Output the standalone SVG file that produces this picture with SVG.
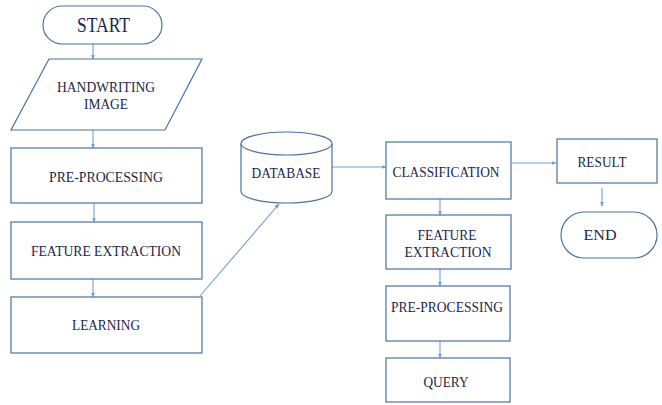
<svg xmlns="http://www.w3.org/2000/svg" width="662" height="405" viewBox="0 0 662 405">
  <defs>
    <style>
      .shape { fill: #ffffff; stroke: #4a72a0; stroke-width: 1.2; }
      .label { font-family: 'Liberation Serif', 'DejaVu Serif', serif; font-size: 15px; fill: #1c2848; text-anchor: middle; }
      .big { font-size: 21px; }
      .link { fill: none; stroke: #6f9fd3; stroke-width: 1.1; }
    </style>
    <marker id="arrow" viewBox="0 0 10 10" refX="9" refY="5" markerWidth="5" markerHeight="5" orient="auto" markerUnits="userSpaceOnUse">
      <path d="M0,1 L10,5 L0,9 z" fill="#6f9fd3"/>
    </marker>
  </defs>
  <rect width="662" height="405" fill="#ffffff"/>

  <g id="connectors">
    <line class="link" x1="93" y1="44" x2="93" y2="59" marker-end="url(#arrow)"/>
    <line class="link" x1="93" y1="130" x2="93" y2="148" marker-end="url(#arrow)"/>
    <line class="link" x1="94" y1="203" x2="94" y2="222" marker-end="url(#arrow)"/>
    <line class="link" x1="93" y1="279" x2="93" y2="297" marker-end="url(#arrow)"/>
    <line class="link" x1="200" y1="296" x2="279" y2="204" marker-end="url(#arrow)"/>
    <line class="link" x1="332" y1="167" x2="386" y2="167" marker-end="url(#arrow)"/>
    <line class="link" x1="440" y1="199" x2="440" y2="215" marker-end="url(#arrow)"/>
    <line class="link" x1="440" y1="269" x2="440" y2="286" marker-end="url(#arrow)"/>
    <line class="link" x1="440" y1="341" x2="440" y2="358" marker-end="url(#arrow)"/>
    <line class="link" x1="512" y1="163" x2="556" y2="163" marker-end="url(#arrow)"/>
    <line class="link" x1="602" y1="188" x2="602" y2="206" marker-end="url(#arrow)"/>
  </g>

  <g font-family="Liberation Serif, DejaVu Serif, serif">
    <g id="start">
      <rect class="shape" x="43" y="6" width="119" height="38" rx="19" ry="19"/>
      <text class="label big" x="103.5" y="32" textLength="53" lengthAdjust="spacingAndGlyphs">START</text>
    </g>

    <g id="handwriting-image">
      <polygon class="shape" points="49,59 202,59 165,130 11,130"/>
      <text class="label" x="106" y="92" textLength="98" lengthAdjust="spacingAndGlyphs">HANDWRITING</text>
      <text class="label" x="106" y="109" textLength="44" lengthAdjust="spacingAndGlyphs">IMAGE</text>
    </g>

    <g id="pre-processing-1">
      <rect class="shape" x="11" y="148" width="191" height="55"/>
      <text class="label" x="106" y="182" textLength="114" lengthAdjust="spacingAndGlyphs">PRE-PROCESSING</text>
    </g>

    <g id="feature-extraction-1">
      <rect class="shape" x="11" y="222" width="191" height="57"/>
      <text class="label" x="106" y="256" textLength="150" lengthAdjust="spacingAndGlyphs">FEATURE EXTRACTION</text>
    </g>

    <g id="learning">
      <rect class="shape" x="11" y="297" width="191" height="56"/>
      <text class="label" x="106" y="330" textLength="68" lengthAdjust="spacingAndGlyphs">LEARNING</text>
    </g>

    <g id="database">
      <path class="shape" d="M241,143.5 L241,191.5 A45.5,11.5 0 0 0 332,191.5 L332,143.5 A45.5,11.5 0 0 0 241,143.5 Z"/>
      <path class="shape" fill="none" d="M241,143.5 A45.5,11.5 0 0 0 332,143.5"/>
      <text class="label" x="286" y="178" textLength="69" lengthAdjust="spacingAndGlyphs">DATABASE</text>
    </g>

    <g id="classification">
      <rect class="shape" x="386" y="142" width="125" height="57"/>
      <text class="label" x="446" y="177" textLength="107" lengthAdjust="spacingAndGlyphs">CLASSIFICATION</text>
    </g>

    <g id="feature-extraction-2">
      <rect class="shape" x="386" y="215" width="125" height="54"/>
      <text class="label" x="447" y="240" textLength="59" lengthAdjust="spacingAndGlyphs">FEATURE</text>
      <text class="label" x="448" y="257" textLength="87" lengthAdjust="spacingAndGlyphs">EXTRACTION</text>
    </g>

    <g id="pre-processing-2">
      <rect class="shape" x="386" y="286" width="124" height="55"/>
      <text class="label" x="447" y="312" textLength="112" lengthAdjust="spacingAndGlyphs">PRE-PROCESSING</text>
    </g>

    <g id="query">
      <rect class="shape" x="386" y="358" width="124" height="44"/>
      <text class="label" x="446" y="387" textLength="45" lengthAdjust="spacingAndGlyphs">QUERY</text>
    </g>

    <g id="result">
      <rect class="shape" x="557" y="139" width="100" height="44"/>
      <text class="label" x="602" y="167" textLength="49" lengthAdjust="spacingAndGlyphs">RESULT</text>
    </g>

    <g id="end">
      <rect class="shape" x="561" y="212" width="96" height="46" rx="23" ry="23"/>
      <text class="label" x="600" y="240" textLength="33" lengthAdjust="spacingAndGlyphs">END</text>
    </g>
  </g>
</svg>
